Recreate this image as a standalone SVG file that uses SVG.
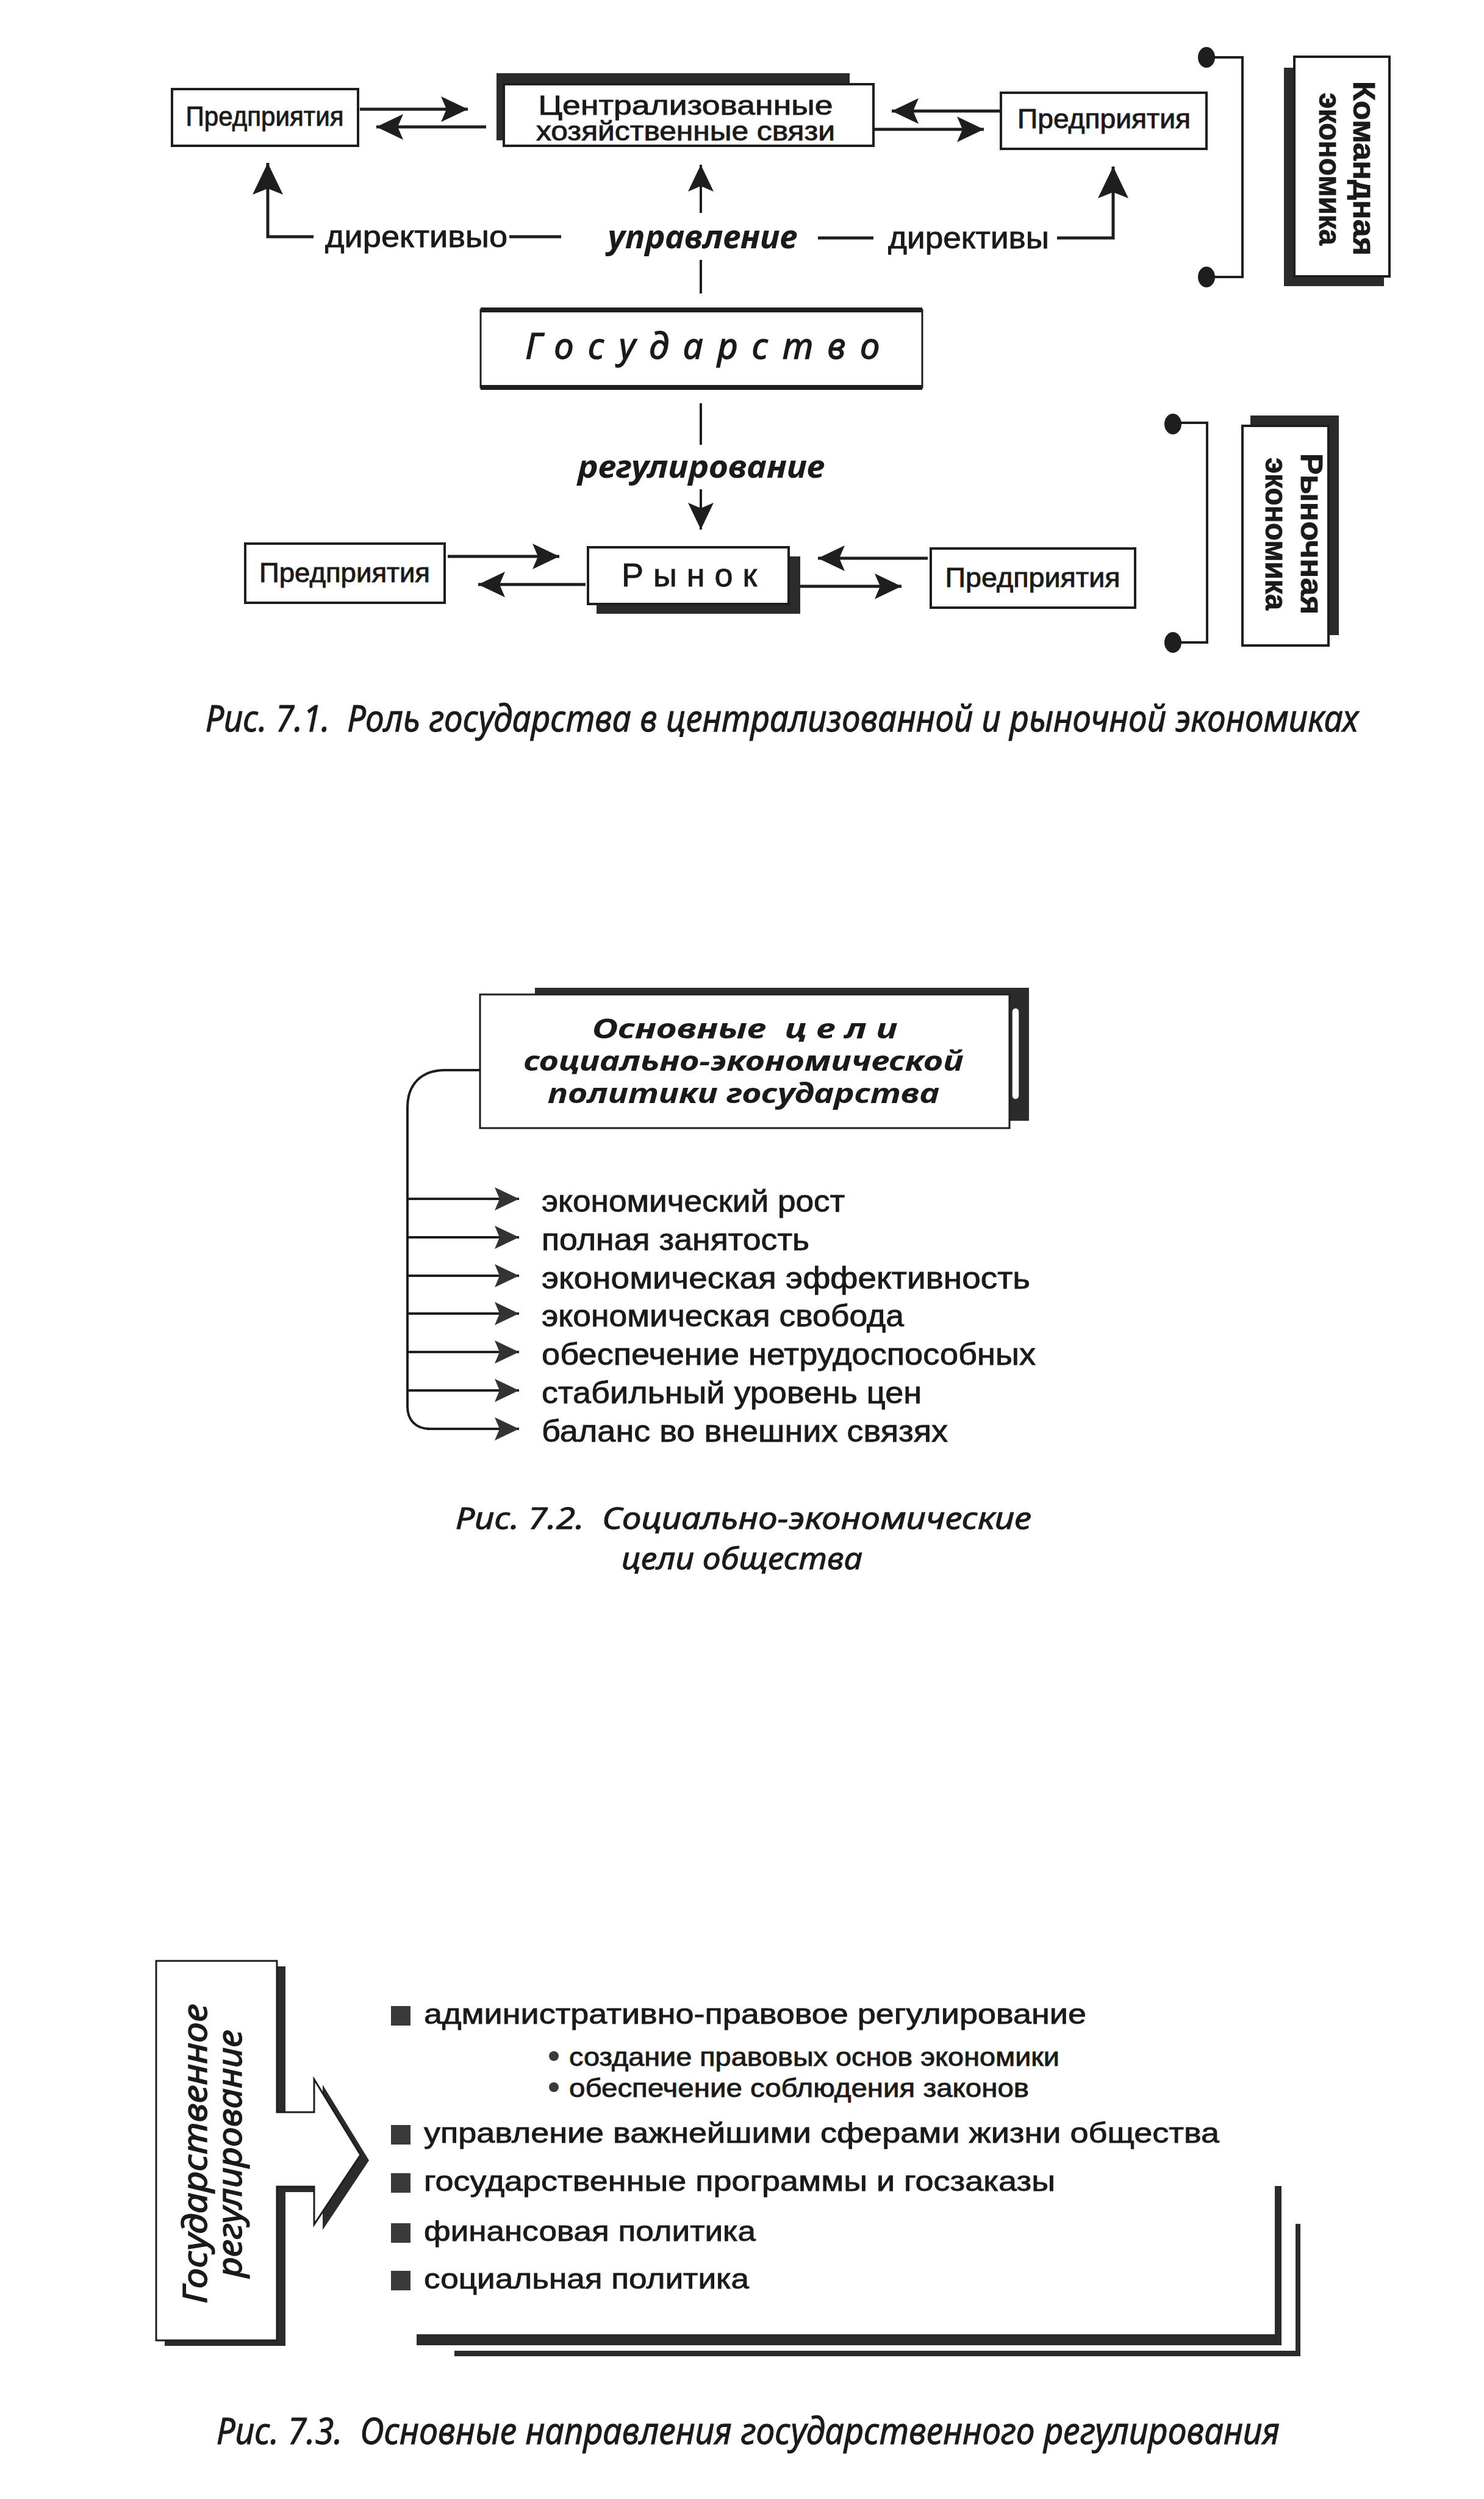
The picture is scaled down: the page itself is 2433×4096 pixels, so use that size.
<svg xmlns="http://www.w3.org/2000/svg" width="2433" height="4096" viewBox="0 0 2433 4096">
<defs>
<style>
.box{fill:#fff;stroke:#1e1e1e;stroke-width:4}
.sh{fill:#2b2b2b}
.ln{fill:none;stroke:#1e1e1e;stroke-width:5}
.lt{fill:none;stroke:#1e1e1e;stroke-width:4}
.dot{fill:#1e1e1e}
.s{font-family:"Liberation Sans",Arial,sans-serif;fill:#1a1a1a;stroke:#1a1a1a;stroke-width:0.9}
.i{font-family:"Noto Sans","Liberation Sans",sans-serif;font-style:italic;fill:#1a1a1a}
.w{stroke:#1a1a1a;stroke-width:1.4}
.c{font-family:"Noto Sans","Liberation Sans",sans-serif;font-style:italic;fill:#1a1a1a;stroke:#1a1a1a;stroke-width:1;white-space:pre}
.b{font-weight:bold}
.m{text-anchor:middle}
.bul{fill:#3a3a3a}
</style>
<marker id="ah" viewBox="0 0 44 42" markerWidth="44" markerHeight="42" refX="44" refY="21" orient="auto" markerUnits="userSpaceOnUse"><path d="M0,0 L44,21 L0,42 L9,21 Z" fill="#1e1e1e"/></marker>
<marker id="ahv" viewBox="0 0 52 50" markerWidth="52" markerHeight="50" refX="52" refY="25" orient="auto" markerUnits="userSpaceOnUse"><path d="M0,0 L52,25 L0,50 L10,25 Z" fill="#1e1e1e"/></marker>
<marker id="ah2" viewBox="0 0 40 38" markerWidth="40" markerHeight="38" refX="40" refY="19" orient="auto" markerUnits="userSpaceOnUse"><path d="M0,0 L40,19 L0,38 L8,19 Z" fill="#333"/></marker>
</defs>
<rect width="2433" height="4096" fill="#fff"/>

<!-- ================= Figure 7.1 ================= -->
<g id="ent-top-left">
<rect class="box" x="282" y="146" width="305" height="93"/>
<text class="s m" x="434" y="206" font-size="44" textLength="259" lengthAdjust="spacingAndGlyphs">Предприятия</text>
</g>
<g id="centralized">
<rect class="sh" x="814" y="120" width="579" height="110"/>
<rect class="box" x="826" y="138" width="606" height="101"/>
<text class="s m" x="1124" y="188" font-size="44" textLength="483" lengthAdjust="spacingAndGlyphs">Централизованные</text>
<text class="s m" x="1124" y="230" font-size="44" textLength="490" lengthAdjust="spacingAndGlyphs">хозяйственные связи</text>
</g>
<g id="ent-top-right">
<rect class="box" x="1641" y="152" width="337" height="92"/>
<text class="s m" x="1810" y="210" font-size="44" textLength="284" lengthAdjust="spacingAndGlyphs">Предприятия</text>
</g>
<g id="command-economy">
<rect class="sh" x="2105" y="111" width="164" height="358"/>
<rect class="box" x="2122" y="93" width="156" height="360"/>
<text class="s b m" transform="translate(2219,276) rotate(90)" font-size="50" textLength="286" lengthAdjust="spacingAndGlyphs">Командная</text>
<text class="s b m" transform="translate(2163,277) rotate(90)" font-size="50" textLength="250" lengthAdjust="spacingAndGlyphs">экономика</text>
</g>
<g id="bracket-command">
<path class="lt" d="M1978 94 H2037 V454 H1978"/>
<ellipse class="dot" cx="1978" cy="94" rx="14" ry="17"/>
<ellipse class="dot" cx="1978" cy="454" rx="14" ry="17"/>
</g>
<g id="state">
<rect class="box" x="788" y="508" width="724" height="127" style="stroke-width:3"/>
<path d="M788 508 H1512 M788 635 H1512" stroke="#1e1e1e" stroke-width="8"/>
<text class="i w m" x="1152" y="588" font-size="58" textLength="581" lengthAdjust="spacing">Государство</text>
</g>
<g id="ent-bottom-left">
<rect class="box" x="402" y="891" width="327" height="97"/>
<text class="s m" x="565" y="954" font-size="44" textLength="280" lengthAdjust="spacingAndGlyphs">Предприятия</text>
</g>
<g id="market">
<rect class="sh" x="978" y="912" width="334" height="94"/>
<rect class="box" x="964" y="897" width="329" height="93"/>
<text class="s m" x="1130" y="961" font-size="54" textLength="222" lengthAdjust="spacing">Рынок</text>
</g>
<g id="ent-bottom-right">
<rect class="box" x="1526" y="899" width="335" height="97"/>
<text class="s m" x="1693" y="962" font-size="44" textLength="287" lengthAdjust="spacingAndGlyphs">Предприятия</text>
</g>
<g id="market-economy">
<rect class="sh" x="2050" y="681" width="145" height="360"/>
<rect class="box" x="2037" y="698" width="141" height="360"/>
<text class="s b m" transform="translate(2133,875) rotate(90)" font-size="50" textLength="264" lengthAdjust="spacingAndGlyphs">Рыночная</text>
<text class="s b m" transform="translate(2075,875) rotate(90)" font-size="50" textLength="250" lengthAdjust="spacingAndGlyphs">экономика</text>
</g>
<g id="bracket-market">
<path class="lt" d="M1923 693 H1979 V1053 H1923"/>
<ellipse class="dot" cx="1923" cy="695" rx="14" ry="17"/>
<ellipse class="dot" cx="1923" cy="1053" rx="14" ry="17"/>
</g>

<g id="connectors">
<path class="ln" d="M590 179 H767" marker-end="url(#ah)"/>
<path class="ln" d="M797 208 H617" marker-end="url(#ah)"/>
<path class="ln" d="M1641 182 H1462" marker-end="url(#ah)"/>
<path class="ln" d="M1433 212 H1613" marker-end="url(#ah)"/>
<path class="ln" d="M514 388 H439 V267" marker-end="url(#ahv)"/>
<path class="lt" d="M1149 349 V270" marker-end="url(#ah)"/>
<path class="ln" d="M1733 390 H1825 V273" marker-end="url(#ahv)"/>
<path class="ln" d="M835 388 H920 M1341 390 H1432"/>
<path class="lt" d="M1149 426 V481 M1149 661 V729"/>
<path class="lt" d="M1149 802 V868" marker-end="url(#ah)"/>
<path class="ln" d="M734 912 H917" marker-end="url(#ah)"/>
<path class="ln" d="M960 958 H784" marker-end="url(#ah)"/>
<path class="ln" d="M1521 915 H1341" marker-end="url(#ah)"/>
<path class="ln" d="M1312 961 H1478" marker-end="url(#ah)"/>
</g>
<g id="connector-labels">
<text class="s" x="533" y="405" font-size="50" textLength="299" lengthAdjust="spacingAndGlyphs">директивыо</text>
<text class="i b" x="996" y="407" font-size="54" textLength="311" lengthAdjust="spacingAndGlyphs">управление</text>
<text class="s" x="1456" y="407" font-size="50" textLength="264" lengthAdjust="spacingAndGlyphs">директивы</text>
<text class="i b" x="947" y="783" font-size="52" textLength="405" lengthAdjust="spacingAndGlyphs">регулирование</text>
</g>
<text id="caption-7-1" class="c" x="337" y="1199" font-size="60" textLength="1890" lengthAdjust="spacingAndGlyphs">Рис. 7.1.  Роль государства в централизованной и рыночной экономиках</text>

<!-- ================= Figure 7.2 ================= -->
<g id="goals">
<rect class="sh" x="877" y="1619" width="810" height="218"/>
<rect class="box" x="787" y="1630" width="868" height="219" style="stroke-width:3"/>
<rect x="1659" y="1652" width="12" height="150" rx="6" fill="#fff" stroke="#2b2b2b" stroke-width="1.5"/>
<text class="i b m" x="1221" y="1702" font-size="45" textLength="501" lengthAdjust="spacingAndGlyphs" style="white-space:pre">Основные  ц е л и</text>
<text class="i b m" x="1219" y="1755" font-size="45" textLength="721" lengthAdjust="spacingAndGlyphs">социально-экономической</text>
<text class="i b m" x="1219" y="1808" font-size="45" textLength="642" lengthAdjust="spacingAndGlyphs">политики государства</text>
</g>
<g id="goal-connectors">
<path class="lt" d="M787 1754 H730 C692 1754 668 1776 668 1815 V2305 C668 2328 682 2342 705 2342"/>
<path class="lt" d="M668 1965 H851" marker-end="url(#ah2)"/>
<path class="lt" d="M668 2028 H851" marker-end="url(#ah2)"/>
<path class="lt" d="M668 2091 H851" marker-end="url(#ah2)"/>
<path class="lt" d="M668 2153 H851" marker-end="url(#ah2)"/>
<path class="lt" d="M668 2216 H851" marker-end="url(#ah2)"/>
<path class="lt" d="M668 2279 H851" marker-end="url(#ah2)"/>
<path class="lt" d="M700 2342 H851" marker-end="url(#ah2)"/>
</g>
<g id="goal-items">
<text class="s" x="888" y="1986" font-size="50" textLength="497" lengthAdjust="spacingAndGlyphs">экономический рост</text>
<text class="s" x="888" y="2049" font-size="50" textLength="439" lengthAdjust="spacingAndGlyphs">полная занятость</text>
<text class="s" x="888" y="2112" font-size="50" textLength="801" lengthAdjust="spacingAndGlyphs">экономическая эффективность</text>
<text class="s" x="888" y="2174" font-size="50" textLength="594" lengthAdjust="spacingAndGlyphs">экономическая свобода</text>
<text class="s" x="888" y="2237" font-size="50" textLength="810" lengthAdjust="spacingAndGlyphs">обеспечение нетрудоспособных</text>
<text class="s" x="888" y="2300" font-size="50" textLength="623" lengthAdjust="spacingAndGlyphs">стабильный уровень цен</text>
<text class="s" x="888" y="2363" font-size="50" textLength="666" lengthAdjust="spacingAndGlyphs">баланс во внешних связях</text>
</g>
<text id="caption-7-2a" class="c" x="747" y="2506" font-size="50" textLength="944" lengthAdjust="spacingAndGlyphs">Рис. 7.2.  Социально-экономические</text>
<text id="caption-7-2b" class="c" x="1019" y="2572" font-size="50" textLength="395" lengthAdjust="spacingAndGlyphs">цели общества</text>

<!-- ================= Figure 7.3 ================= -->
<g id="state-regulation">
<path class="sh" transform="translate(14,9)" d="M256,3214 H454 V3462 H515 V3408 L591,3532 L515,3646 V3584 H454 V3836 H256 Z"/>
<path d="M256,3214 H454 V3462 H515 V3408 L591,3532 L515,3646 V3584 H454 V3836 H256 Z" fill="#fff" stroke="#1e1e1e" stroke-width="3"/>
<text class="i w m" transform="translate(339,3530) rotate(-90)" font-size="54" textLength="491" lengthAdjust="spacingAndGlyphs">Государственное</text>
<text class="i w m" transform="translate(396,3530) rotate(-90)" font-size="54" textLength="406" lengthAdjust="spacingAndGlyphs">регулирование</text>
</g>
<g id="directions">
<rect class="bul" x="641" y="3288" width="32" height="32"/>
<text class="s" x="695" y="3317" font-size="47" textLength="1086" lengthAdjust="spacingAndGlyphs">административно-правовое регулирование</text>
<circle class="bul" cx="908" cy="3370" r="8"/>
<text class="s" x="933" y="3386" font-size="42" textLength="804" lengthAdjust="spacingAndGlyphs">создание правовых основ экономики</text>
<circle class="bul" cx="908" cy="3421" r="8"/>
<text class="s" x="933" y="3437" font-size="42" textLength="754" lengthAdjust="spacingAndGlyphs">обеспечение соблюдения законов</text>
<rect class="bul" x="641" y="3483" width="32" height="32"/>
<text class="s" x="695" y="3512" font-size="47" textLength="1304" lengthAdjust="spacingAndGlyphs">управление важнейшими сферами жизни общества</text>
<rect class="bul" x="641" y="3562" width="32" height="32"/>
<text class="s" x="695" y="3591" font-size="47" textLength="1035" lengthAdjust="spacingAndGlyphs">государственные программы и госзаказы</text>
<rect class="bul" x="641" y="3644" width="32" height="32"/>
<text class="s" x="695" y="3673" font-size="47" textLength="544" lengthAdjust="spacingAndGlyphs">финансовая политика</text>
<rect class="bul" x="641" y="3722" width="32" height="32"/>
<text class="s" x="695" y="3751" font-size="47" textLength="533" lengthAdjust="spacingAndGlyphs">социальная политика</text>
</g>
<g id="frame-lines">
<rect class="sh" x="683" y="3826" width="1418" height="18"/>
<rect class="sh" x="2090" y="3583" width="11" height="261"/>
<rect class="sh" x="745" y="3853" width="1387" height="9"/>
<rect class="sh" x="2124" y="3645" width="8" height="217"/>
</g>
<text id="caption-7-3" class="c" x="355" y="4006" font-size="60" textLength="1743" lengthAdjust="spacingAndGlyphs">Рис. 7.3.  Основные направления государственного регулирования</text>
</svg>
